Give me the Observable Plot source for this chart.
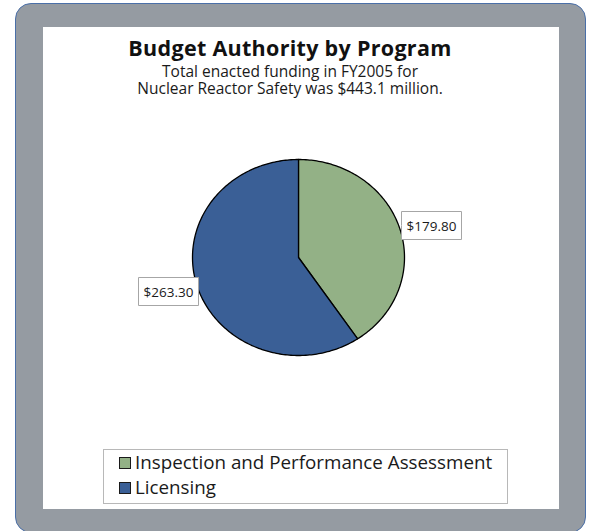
<!DOCTYPE html>
<html>
<head>
<meta charset="utf-8">
<script src="https://cdn.jsdelivr.net/npm/d3@7"></script>
<script src="https://cdn.jsdelivr.net/npm/@observablehq/plot@0.6"></script>
<style>
  body { margin: 0; background: #ffffff; font-family: "Open Sans", sans-serif; color: #1a1a1a; }
  #frame { position: absolute; left: 15px; top: 3px; width: 571px; height: 530px; box-sizing: border-box;
           background: #959ba2; border: 1px solid #4a6fa8; border-radius: 16px; }
  #panel { position: absolute; left: 43px; top: 27px; width: 516px; height: 482px; background: #ffffff; }
  #title { position: absolute; left: 40px; width: 500px; top: 35.5px; text-align: center;
           font-weight: 700; font-size: 21.5px; letter-spacing: 0.3px; line-height: 24px; color: #111; }
  #subtitle { position: absolute; left: 40px; width: 500px; top: 62.5px; text-align: center;
              font-size: 15.5px; line-height: 17.5px; color: #1a1a1a; }
  #chart { position: absolute; left: 43px; top: 110px; }
  #legend { position: absolute; left: 103px; top: 449px; width: 405px; height: 55px; box-sizing: border-box;
            border: 1px solid #b8b8b8; background: #fff; padding-left: 15px; }
  .item { font-size: 18.8px; line-height: 25px; white-space: nowrap; color: #1a1a1a; }
  .sw { display: inline-block; width: 10px; height: 10px; border: 1px solid #1a1a1a; margin-right: 4px; vertical-align: 0; }
</style>
</head>
<body>
<div id="frame"></div>
<div id="panel"></div>
<div id="title">Budget Authority by Program</div>
<div id="subtitle">Total enacted funding in FY2005 for<br>Nuclear Reactor Safety was $443.1 million.</div>
<div id="chart"></div>
<div id="legend"></div>
<script>
// ---- data ----
const programs = ["Inspection and Performance Assessment", "Licensing"];
const amounts = [179.8, 263.3];
const labels = ["$179.80", "$263.30"];
const colors = ["#93b186", "#3a5f96"];

// ---- pie geometry from data ----
const arcs = d3.pie().sort(null)(amounts);
const wedgePts = [];
arcs.forEach((a, i) => {
  wedgePts.push({program: programs[i], x: 0, y: 0});
  const n = Math.max(2, Math.ceil((a.endAngle - a.startAngle) / (Math.PI / 180)));
  for (let k = 0; k <= n; k++) {
    const t = a.startAngle + (a.endAngle - a.startAngle) * k / n;
    wedgePts.push({program: programs[i], x: Math.sin(t), y: -Math.cos(t)});
  }
});
const labelPts = arcs.map((a, i) => {
  const m = (a.startAngle + a.endAngle) / 2;
  return {program: programs[i], label: labels[i], x: Math.sin(m), y: -Math.cos(m)};
});

const tipStyle = {
  pointerSize: 0, pathFilter: "none", fill: "white", stroke: "#a6a6a6", strokeWidth: 1,
  textPadding: 5, fontSize: 13.5, fontFamily: "Open Sans", lineHeight: 1
};

const chart = Plot.plot({
  width: 516,
  height: 340,
  marginLeft: 149,
  marginRight: 155,
  marginTop: 49,
  marginBottom: 95,
  x: {domain: [-1, 1], axis: null},
  y: {domain: [-1, 1], reverse: true, axis: null},
  color: {domain: programs, range: colors},
  style: {background: "transparent", color: "#1a1a1a", overflow: "visible"},
  marks: [
    Plot.line(wedgePts, {x: "x", y: "y", z: "program", fill: "program", stroke: "#000",
                         strokeWidth: 1.3, curve: "linear-closed", strokeLinejoin: "round"}),
    Plot.tip(labelPts.filter(d => d.x >= 0), {x: "x", y: "y", title: "label", anchor: "left", dx: 2, dy: -3, ...tipStyle}),
    Plot.tip(labelPts.filter(d => d.x < 0), {x: "x", y: "y", title: "label", anchor: "right", dx: 1, dy: 5, ...tipStyle})
  ]
});
document.getElementById("chart").appendChild(chart);

// ---- legend ----
const legend = document.getElementById("legend");
programs.forEach((p, i) => {
  const row = document.createElement("div");
  row.className = "item";
  const sw = document.createElement("span");
  sw.className = "sw";
  sw.style.background = colors[i];
  row.appendChild(sw);
  row.appendChild(document.createTextNode(p));
  legend.appendChild(row);
});
</script>
</body>
</html>
